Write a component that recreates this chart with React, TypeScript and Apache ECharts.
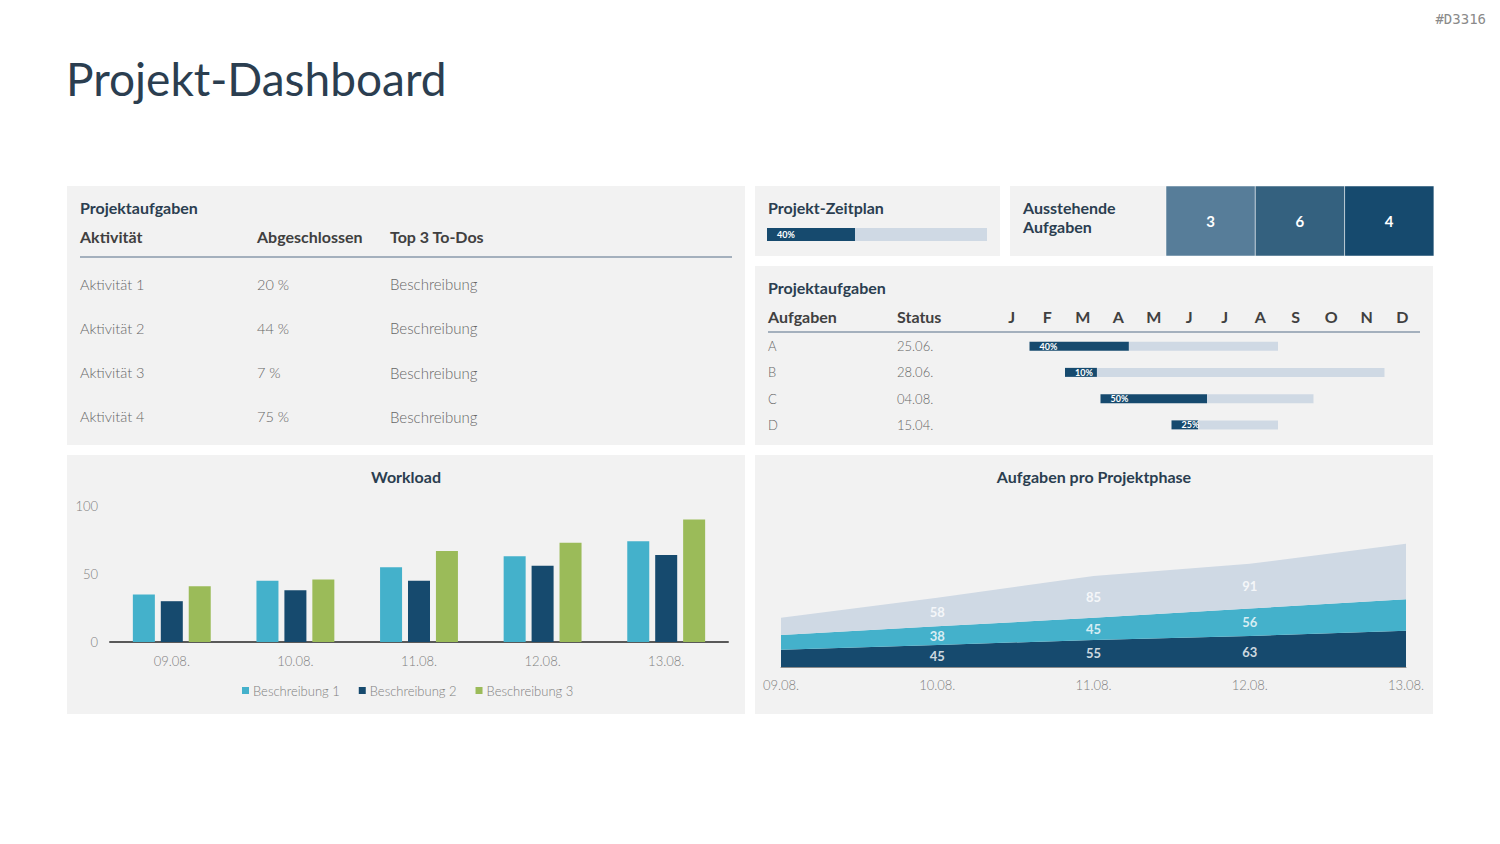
import React, { useEffect, useRef } from 'react';
import * as echarts from 'echarts';

const FONT = 'Lato, "Noto Sans", sans-serif';
const NAVY = '#164a6e';
const TEAL = '#44b1cb';
const GREEN = '#9bbb59';
const PALE = '#cfd9e4';
const INK = '#2b3e50';
const HEAD = '#404040';
const BODY = '#666666';
const AXIS_TXT = '#808080';
const PANEL = '#f2f2f2';

// Projektaufgaben table
const activities = ['Aktivität 1', 'Aktivität 2', 'Aktivität 3', 'Aktivität 4'];
const completed = ['20 %', '44 %', '7 %', '75 %'];
const todos = ['Beschreibung', 'Beschreibung', 'Beschreibung', 'Beschreibung'];

// Projekt-Zeitplan and pending tasks
const planProgress = 40;
const pendingCounts = [3, 6, 4];
const pendingColors = ['#577d99', '#34617f', '#164a6e'];

// Gantt schedule (months are 0-based start index and duration in months)
const months = ['J', 'F', 'M', 'A', 'M', 'J', 'J', 'A', 'S', 'O', 'N', 'D'];
const ganttTasks = ['A', 'B', 'C', 'D'];
const ganttStatus = ['25.06.', '28.06.', '04.08.', '15.04.'];
const ganttStart = [1, 2, 3, 5];
const ganttLength = [7, 9, 6, 3];
const ganttProgress = [40, 10, 50, 25];

// Workload
const days = ['09.08.', '10.08.', '11.08.', '12.08.', '13.08.'];
const workloadNames = ['Beschreibung 1', 'Beschreibung 2', 'Beschreibung 3'];
const workload1 = [35, 45, 55, 63, 74];
const workload2 = [30, 38, 45, 56, 64];
const workload3 = [41, 46, 67, 73, 90];

// Aufgaben pro Projektphase (stacked from bottom to top)
const phaseLow = [35, 45, 55, 63, 74];
const phaseMid = [30, 38, 45, 56, 64];
const phaseHigh = [35, 58, 85, 91, 113];
const labelledDays = [1, 2, 3];

function txt(text: string, x: number, y: number, size: number, color: string, weight: any = 'normal', align = 'left') {
  return {
    type: 'text',
    x,
    y,
    style: {
      text,
      fill: color,
      fontSize: size,
      fontWeight: weight,
      fontFamily: FONT,
      align,
      verticalAlign: 'middle',
      textAlign: align,
      textVerticalAlign: 'middle',
    },
  };
}

function panel(x: number, y: number, w: number, h: number) {
  return { type: 'rect', shape: { x, y, width: w, height: h }, style: { fill: PANEL } };
}

export default function App() {
  const ref = useRef<HTMLDivElement>(null);

  useEffect(() => {
    const chart = echarts.init(ref.current!, undefined, { renderer: 'svg' });

    const rowY = (i: number) => 284 + i * 44.3;
    const tableTexts: any[] = [];
    activities.forEach((a, i) => {
      tableTexts.push(txt(a, 80, rowY(i), 14.5, BODY, 300));
      tableTexts.push(txt(completed[i], 257, rowY(i), 14.5, BODY, 300));
      tableTexts.push(txt(todos[i], 390, rowY(i), 15, BODY, 300));
    });

    const pendingBoxes: any[] = [];
    pendingCounts.forEach((c, i) => {
      const x = 1166 + i * 89.3;
      pendingBoxes.push({ type: 'rect', shape: { x, y: 186, width: 89.3, height: 70 }, style: { fill: pendingColors[i], stroke: '#ffffff', lineWidth: 0.5 } });
      pendingBoxes.push(txt(String(c), x + 44.6, 221, 15, '#ffffff', 'bold', 'center'));
    });

    const phaseSeries = [phaseLow, phaseMid, phaseHigh];
    const phaseColors = [NAVY, TEAL, PALE];
    const stackBase = (k: number, i: number) => phaseSeries.slice(0, k).reduce((s, arr) => s + arr[i], 0);

    const option: any = {
      animation: false,
      backgroundColor: '#ffffff',
      textStyle: { fontFamily: FONT },
      graphic: [
        txt('Projekt-Dashboard', 66, 78, 46, INK, 'normal'),
        {
          type: 'text', x: 1486, y: 19,
          style: { text: '#D3316', fill: '#8a8a8a', fontSize: 14, fontFamily: '"DejaVu Sans Mono", monospace', align: 'right', verticalAlign: 'middle', textAlign: 'right', textVerticalAlign: 'middle' },
        },
        panel(67, 186, 678, 259),
        panel(755, 186, 245, 70),
        panel(1010, 186, 423, 70),
        panel(755, 266, 678, 179),
        panel(67, 455, 678, 259),
        panel(755, 455, 678, 259),
        txt('Projektaufgaben', 80, 207.5, 16, INK, 'bold'),
        txt('Aktivität', 80, 236.5, 16, HEAD, 'bold'),
        txt('Abgeschlossen', 257, 236.5, 16, HEAD, 'bold'),
        txt('Top 3 To-Dos', 390, 236.5, 16, HEAD, 'bold'),
        { type: 'line', shape: { x1: 80, y1: 257, x2: 732, y2: 257 }, style: { stroke: '#8a9aab', lineWidth: 1.5 } },
        ...tableTexts,
        txt('Projekt-Zeitplan', 768, 207.5, 16, INK, 'bold'),
        txt('Ausstehende', 1023, 207.5, 16, INK, 'bold'),
        txt('Aufgaben', 1023, 226.5, 16, INK, 'bold'),
        ...pendingBoxes,
        txt('Projektaufgaben', 768, 287.5, 16, INK, 'bold'),
        txt('Aufgaben', 768, 316.5, 16, HEAD, 'bold'),
        txt('Status', 897, 316.5, 16, HEAD, 'bold'),
        { type: 'line', shape: { x1: 768, y1: 332, x2: 1420, y2: 332 }, style: { stroke: '#8a9aab', lineWidth: 1.5 } },
        txt('Workload', 406, 476.5, 16, INK, 'bold', 'center'),
        txt('Aufgaben pro Projektphase', 1094, 476.5, 16, INK, 'bold', 'center'),
      ],
      legend: {
        data: workloadNames,
        left: 237,
        top: 679,
        icon: 'rect',
        itemWidth: 7,
        itemHeight: 7,
        itemGap: 19,
        textStyle: { color: AXIS_TXT, fontSize: 13, fontFamily: FONT, fontWeight: 300, padding: [0, 0, 0, -1] },
      },
      grid: [
        { left: 767, top: 228, width: 220, height: 13 },
        { left: 994, top: 333, width: 426, height: 105 },
        { left: 110, top: 506, width: 618, height: 136 },
        { left: 781, top: 495, width: 625, height: 172 },
      ],
      xAxis: [
        { gridIndex: 0, type: 'value', min: 0, max: 100, show: false },
        { gridIndex: 1, type: 'value', min: 0, max: 12, show: false },
        {
          gridIndex: 1, type: 'category', position: 'top', data: months,
          axisLine: { show: false }, axisTick: { show: false },
          axisLabel: { color: HEAD, fontSize: 16, fontWeight: 'bold', fontFamily: FONT, margin: 8.5, interval: 0 },
        },
        {
          gridIndex: 2, type: 'category', data: days,
          axisLine: { lineStyle: { color: '#595959', width: 2 } }, axisTick: { show: false },
          axisLabel: { color: AXIS_TXT, fontSize: 13, fontWeight: 300, fontFamily: FONT, margin: 12 },
        },
        {
          gridIndex: 3, type: 'category', data: days, boundaryGap: false,
          axisLine: { lineStyle: { color: '#8c8c8c', width: 1 } }, axisTick: { show: false },
          axisLabel: { color: AXIS_TXT, fontSize: 13, fontWeight: 300, fontFamily: FONT, margin: 11 },
        },
      ],
      yAxis: [
        { gridIndex: 0, type: 'category', data: ['p'], show: false },
        {
          gridIndex: 1, type: 'category', data: ganttTasks, inverse: true,
          axisLine: { show: false }, axisTick: { show: false },
          axisLabel: {
            margin: 226,
            align: 'left',
            formatter: (v: string, i: number) => `{t|${v}}{s|${ganttStatus[i]}}`,
            rich: {
              t: { width: 129, color: BODY, fontSize: 13, fontWeight: 300, fontFamily: FONT },
              s: { color: BODY, fontSize: 13, fontWeight: 300, fontFamily: FONT },
            },
          },
        },
        {
          gridIndex: 2, type: 'value', min: 0, max: 100, interval: 50,
          splitLine: { show: false }, axisLine: { show: false }, axisTick: { show: false },
          axisLabel: { color: AXIS_TXT, fontSize: 13, fontWeight: 300, fontFamily: FONT, margin: 12 },
        },
        { gridIndex: 3, type: 'value', min: 0, max: 350, show: false },
      ],
      series: [
        {
          type: 'bar', stack: 'plan', xAxisIndex: 0, yAxisIndex: 0, barWidth: 13,
          data: [planProgress], itemStyle: { color: NAVY },
          label: { show: true, position: 'insideLeft', distance: 10, formatter: `${planProgress}%`, color: '#ffffff', fontSize: 9, fontWeight: 'bold', fontFamily: FONT },
        },
        {
          type: 'bar', stack: 'plan', xAxisIndex: 0, yAxisIndex: 0, barWidth: 13,
          data: [100 - planProgress], itemStyle: { color: PALE },
        },
        {
          type: 'bar', stack: 'gantt', xAxisIndex: 1, yAxisIndex: 1, barWidth: 9, silent: true,
          data: ganttStart, itemStyle: { color: 'transparent' },
        },
        {
          type: 'bar', stack: 'gantt', xAxisIndex: 1, yAxisIndex: 1, barWidth: 9,
          data: ganttLength.map((l, i) => (l * ganttProgress[i]) / 100), itemStyle: { color: NAVY },
          label: {
            show: true, position: 'insideLeft', distance: 10,
            formatter: (p: any) => `${ganttProgress[p.dataIndex]}%`,
            color: '#ffffff', fontSize: 9, fontWeight: 'bold', fontFamily: FONT,
          },
        },
        {
          type: 'bar', stack: 'gantt', xAxisIndex: 1, yAxisIndex: 1, barWidth: 9,
          data: ganttLength.map((l, i) => l - (l * ganttProgress[i]) / 100), itemStyle: { color: PALE },
        },
        ...[workload1, workload2, workload3].map((d, k) => ({
          type: 'bar', name: workloadNames[k], xAxisIndex: 3, yAxisIndex: 2,
          barWidth: 22, barGap: '27%', data: d,
          itemStyle: { color: [TEAL, NAVY, GREEN][k] },
        })),
        ...phaseSeries.map((d, k) => ({
          type: 'line', stack: 'phase', xAxisIndex: 4, yAxisIndex: 3, data: d,
          symbol: 'none', lineStyle: { width: 0 }, areaStyle: { color: phaseColors[k], opacity: 1 },
          itemStyle: { color: phaseColors[k] },
        })),
        // value labels placed at the middle of each stacked band
        ...phaseSeries.map((d, k) => ({
          type: 'scatter', xAxisIndex: 4, yAxisIndex: 3, symbol: 'circle', symbolSize: 8, z: 10,
          itemStyle: { color: 'rgba(0,0,0,0)' },
          data: labelledDays.map((i) => [i, stackBase(k, i) + d[i] / 2]),
          label: {
            show: true, position: 'inside',
            formatter: (p: any) => String(d[labelledDays[p.dataIndex]]),
            color: '#ffffff', fontSize: 13, fontWeight: 'bold', fontFamily: FONT,
          },
        })),
      ],
    };

    chart.setOption(option);
    return () => chart.dispose();
  }, []);

  return (
    <div
      ref={ref}
      style={{ position: 'absolute', left: 0, top: 0, width: 1500, height: 844, background: '#ffffff' }}
    />
  );
}
